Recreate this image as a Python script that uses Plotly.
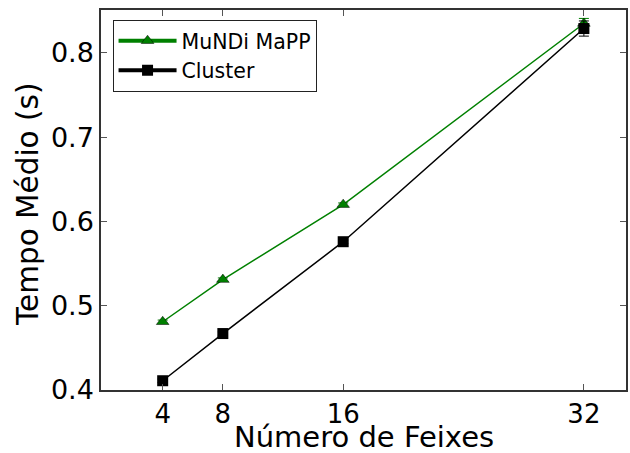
import plotly.graph_objects as go

x_vals = [4, 8, 16, 32]
mundi = [0.481, 0.531, 0.620, 0.835]
mundi_err = [0.002, 0.002, 0.002, 0.006]
cluster = [0.411, 0.467, 0.576, 0.829]
cluster_err = [0.002, 0.002, 0.002, 0.009]
tick_vals = [4, 8, 16, 32]
ytick_vals = [0.4, 0.5, 0.6, 0.7, 0.8]

fig = go.Figure()
fig.add_trace(go.Scatter(
    x=x_vals, y=mundi, name="MuNDi MaPP", mode="lines+markers", showlegend=False,
    line=dict(color="green", width=1.5),
    marker=dict(symbol="triangle-up", size=11, color="green", line=dict(color="black", width=0.5)),
    error_y=dict(type="data", array=mundi_err, color="green", thickness=1, width=5),
))
fig.add_trace(go.Scatter(
    x=x_vals, y=cluster, name="Cluster", mode="lines+markers", showlegend=False,
    line=dict(color="black", width=1.5),
    marker=dict(symbol="square", size=11, color="black"),
    error_y=dict(type="data", array=cluster_err, color="black", thickness=1, width=5),
))
# legend entries with thicker line samples
fig.add_trace(go.Scatter(
    x=[None], y=[None], name="MuNDi MaPP", mode="lines+markers",
    line=dict(color="green", width=4),
    marker=dict(symbol="triangle-up", size=11, color="green", line=dict(color="black", width=0.5)),
))
fig.add_trace(go.Scatter(
    x=[None], y=[None], name="Cluster", mode="lines+markers",
    line=dict(color="black", width=4),
    marker=dict(symbol="square", size=11, color="black"),
))

fig.update_layout(
    width=630, height=453,
    margin=dict(l=101, r=2, t=10, b=63),
    paper_bgcolor="white", plot_bgcolor="white",
    font=dict(family="DejaVu Sans", color="black"),
    showlegend=True,
    legend=dict(
        x=0.022, y=0.974, xanchor="left", yanchor="top",
        bgcolor="white", bordercolor="#222", borderwidth=1,
        font=dict(size=20.5), itemwidth=58,
        tracegroupgap=0,
    ),
    annotations=[
        dict(text="Número de Feixes", xref="paper", yref="paper", x=0.5, y=-0.123,
             xanchor="center", yanchor="middle", showarrow=False, font=dict(size=29)),
        dict(text="Tempo Médio (s)", xref="paper", yref="paper", x=-0.139, y=0.487,
             xanchor="center", yanchor="middle", showarrow=False, textangle=-90,
             font=dict(size=29.5)),
    ],
)
fig.update_xaxes(
    range=[-0.1, 34.8], tickvals=tick_vals, ticktext=[str(v) for v in tick_vals],
    ticks="inside", ticklen=6, tickcolor="#555", mirror="ticks",
    showline=True, linecolor="#333", linewidth=1.5, showgrid=False, zeroline=False,
    tickfont=dict(size=26),
)
fig.update_yaxes(
    range=[0.4, 0.851], tickvals=ytick_vals, ticktext=["0.4", "0.5", "0.6", "0.7", "0.8"],
    ticks="inside", ticklen=6, tickcolor="#555", mirror="ticks",
    showline=True, linecolor="#333", linewidth=1.5, showgrid=False, zeroline=False,
    tickfont=dict(size=27),
)

fig.write_html("out.html")
